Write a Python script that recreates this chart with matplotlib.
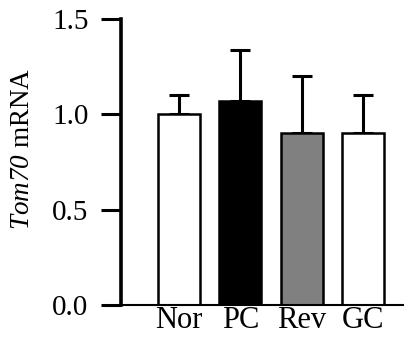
import matplotlib
matplotlib.use("Agg")
import matplotlib.pyplot as plt

## Data

groups = ["Nor", "PC", "Rev", "GC"]
means = [1.0, 1.07, 0.9, 0.9]
errors = [0.1, 0.27, 0.3, 0.2]
colors = ["white", "black", "#808080", "white"]

## Fonts

plt.rcParams["font.family"] = ["Liberation Serif", "DejaVu Serif"]
plt.rcParams["mathtext.fontset"] = "custom"
plt.rcParams["mathtext.rm"] = "Liberation Serif:italic"
plt.rcParams["mathtext.it"] = "Liberation Serif:italic"

## Figure

fig = plt.figure(figsize=(4.04, 3.37), dpi=100)
ax = fig.add_axes([121 / 404, 32 / 337, 283 / 404, 286 / 337])

x = list(range(len(groups)))

# upper error bars only, drawn behind the bars
ax.errorbar(x, means, yerr=[[0] * len(errors), errors], fmt="none",
            ecolor="black", elinewidth=2.2, capsize=7.5, capthick=2.2, zorder=1)
ax.bar(x, means, width=0.685, color=colors, edgecolor="black",
       linewidth=1.8, zorder=2)

## Axes styling

ax.set_xlim(-0.946, 3.67)
ax.set_ylim(0, 1.5)
ax.set_yticks([0.0, 0.5, 1.0, 1.5])
ax.set_yticklabels(["0.0", "0.5", "1.0", "1.5"])
ax.set_xticks(x)
ax.set_xticklabels(groups)

ax.spines["top"].set_visible(False)
ax.spines["right"].set_visible(False)
ax.spines["left"].set_linewidth(2.6)
ax.spines["bottom"].set_linewidth(1.5)

ax.tick_params(axis="y", length=14.4, width=2.2, labelsize=21, pad=9)
ax.tick_params(axis="x", length=0, labelsize=22, pad=1)

# y label: italic gene name followed by upright "mRNA"
fig.text(23 / 404, 1 - 149 / 337, r"$Tom70$ mRNA", fontsize=19.5,
         rotation=90, ha="center", va="center")

fig.savefig("out.png", dpi=100)
